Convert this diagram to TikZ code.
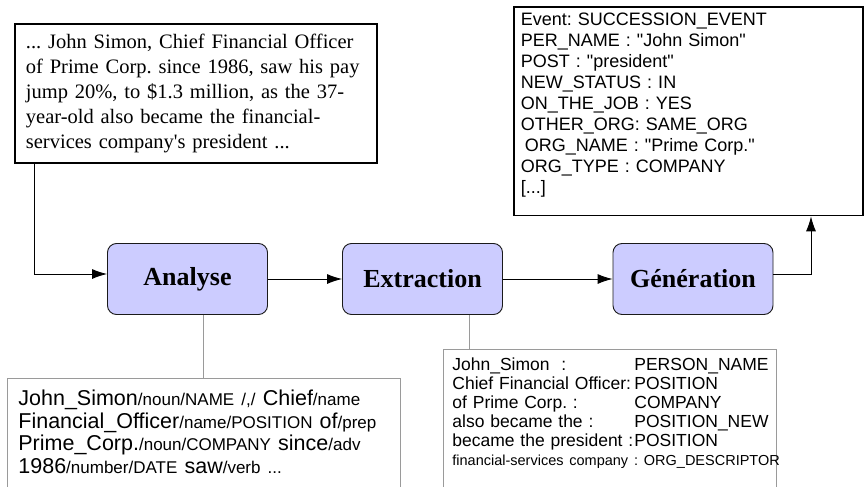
\documentclass[tikz,border=0pt]{standalone}
\usepackage{fontspec}
\setmainfont{Liberation Serif}
\setsansfont{Liberation Sans}
\usepackage{xcolor}
\definecolor{stage-fill}{HTML}{CCCCFF}
\definecolor{stage-line}{HTML}{1A1A1A}
\definecolor{note-line}{HTML}{9A9A9A}
\usetikzlibrary{arrows.meta}
\frenchspacing
\newcommand{\ann}[1]{{\fontsize{17}{22.5}\selectfont #1}}
\newcommand{\qt}[1]{\textquotedbl #1\textquotedbl}

\tikzset{
  stage/.style={draw=stage-line, fill=stage-fill, line width=0.9pt, rounded corners=9pt,
    minimum width=160pt, minimum height=71pt, font=\fontsize{26}{30}\selectfont\bfseries},
  textbox/.style={draw=black, line width=1.8pt, anchor=north west, align=left},
  notebox/.style={draw=note-line, line width=0.8pt, anchor=north west, align=left},
  link/.style={-{Latex[length=15pt,width=10pt]}, line width=0.9pt},
  tie/.style={draw=note-line, line width=0.9pt}
}

\begin{document}
\begin{tikzpicture}[x=1pt, y=-1pt]

    % Page
    \useasboundingbox (0,0) rectangle (865,487);
    \clip (0,0) rectangle (865,487);

    % Source text
    \node[textbox, text width=340pt, inner xsep=11pt, inner ysep=10pt,
      font=\fontsize{20.5}{25}\selectfont] (source) at (14,23)
      {... John Simon, Chief Financial Officer\\
       of Prime Corp. since 1986, saw his pay\\
       jump 20\%, to \$1.3 million, as the 37-\\
       year-old also became the financial-\\
       services company\textquotesingle s president ...};

    % Stages
    \node[stage] (analyse) at (187.5,279) {Analyse};
    \node[stage] (extraction) at (422.5,279) {Extraction};
    \node[stage] (generation) at (693,279) {Génération};

    % Filled template
    \node[textbox, text width=335pt, inner xsep=7pt, inner ysep=6.5pt,
      font=\sffamily\fontsize{18}{21}\selectfont] (record) at (513,6)
      {Event: SUCCESSION\_EVENT\\
       PER\_NAME : \qt{John Simon}\\
       POST : \qt{president}\\
       NEW\_STATUS : IN\\
       ON\_THE\_JOB : YES\\
       OTHER\_ORG: SAME\_ORG\\
       \hspace*{4pt}ORG\_NAME : \qt{Prime Corp.}\\
       ORG\_TYPE : COMPANY\\
       {[...]}\rule[-15pt]{0pt}{15pt}};

    % Tagged words
    \node[notebox, text width=371pt, inner xsep=11pt, inner ysep=12pt,
      font=\sffamily\fontsize{21.5}{22.5}\selectfont] (tagged) at (7,378)
      {John\_Simon\ann{/noun/NAME /,/} Chief\ann{/name}\\
       Financial\_Officer\ann{/name/POSITION} of\ann{/prep}\\
       Prime\_Corp.\ann{/noun/COMPANY} since\ann{/adv}\\
       1986\ann{/number/DATE} saw\ann{/verb ...}\rule[-30pt]{0pt}{30pt}};

    % Extracted fields
    \node[notebox, text width=315pt, inner xsep=9pt, inner ysep=8.8pt,
      font=\sffamily\fontsize{17.5}{19}\selectfont] (fields) at (443,349)
      {\makebox[182pt][l]{John\_Simon\ \ :}PERSON\_NAME\\
       \makebox[182pt][l]{Chief Financial Officer:}POSITION\\
       \makebox[182pt][l]{of Prime Corp. :}COMPANY\\
       \makebox[182pt][l]{also became the :}POSITION\_NEW\\
       \makebox[182pt][l]{became the president :}POSITION\\
       \mbox{\fontsize{14.5}{19}\selectfont financial-services company : ORG\_DESCRIPTOR}\rule[-30pt]{0pt}{30pt}};

    % Flow
    \draw[link] ([xshift=20pt]source.south west) |- ([yshift=5pt]analyse.west);
    \draw[link] (analyse) -- (extraction);
    \draw[link] (extraction) -- (generation);
    \draw[link] ([yshift=5pt]generation.east) -| ([xshift=298pt]record.south west);

    % Ties to the annotations
    \coordinate (analysefoot) at ([xshift=15.5pt]analyse.south);
    \coordinate (extractionfoot) at ([xshift=46.5pt]extraction.south);
    \draw[tie] (analysefoot) -- (analysefoot |- tagged.north);
    \draw[tie] (extractionfoot) -- (extractionfoot |- fields.north);

\end{tikzpicture}
\end{document}
